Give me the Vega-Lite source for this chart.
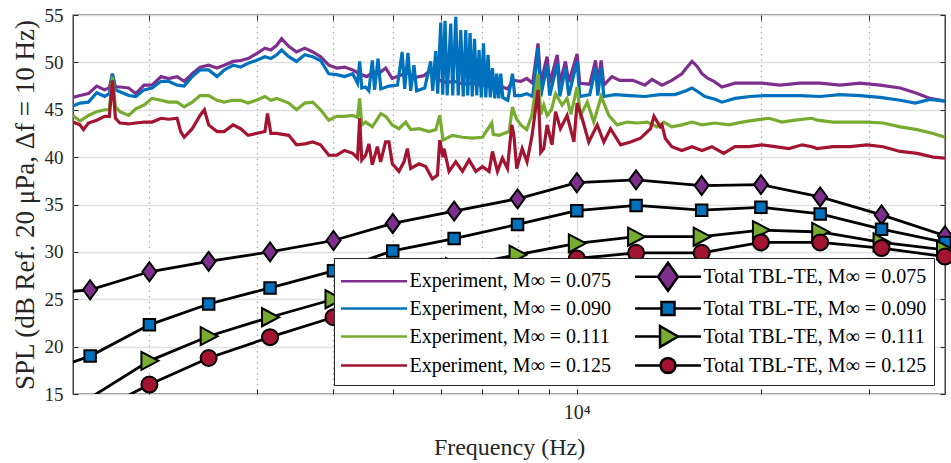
{
"$schema": "https://vega.github.io/schema/vega-lite/v6.json",
"width": 872, "height": 379,
"autosize": {"type": "none"},
"padding": {"left": 73, "top": 15, "right": 6, "bottom": 69},
"background": "white",
"config": {
  "font": "Liberation Serif",
  "view": {"stroke": "#262626", "strokeWidth": 1.3},
  "axis": {"labelFont": "Liberation Serif", "titleFont": "Liberation Serif", "labelColor": "#262626", "titleColor": "#262626", "titleFontWeight": "normal"}
},
"datasets": {
"exp": [
{"f":1500,"spl":46.3,"s":"E075"},{"f":1540,"spl":46.5,"s":"E075"},{"f":1590,"spl":46.7,"s":"E075"},{"f":1640,"spl":47.5,"s":"E075"},{"f":1690,"spl":47.1,"s":"E075"},{"f":1720,"spl":47.3,"s":"E075"},{"f":1740,"spl":48.8,"s":"E075"},{"f":1760,"spl":47.4,"s":"E075"},{"f":1790,"spl":47.4,"s":"E075"},{"f":1850,"spl":47.3,"s":"E075"},{"f":1900,"spl":46.7,"s":"E075"},{"f":1960,"spl":47.6,"s":"E075"},{"f":2020,"spl":47.6,"s":"E075"},{"f":2090,"spl":48.5,"s":"E075"},{"f":2150,"spl":48.3,"s":"E075"},{"f":2220,"spl":48.5,"s":"E075"},{"f":2280,"spl":48.0,"s":"E075"},{"f":2350,"spl":48.8,"s":"E075"},{"f":2420,"spl":49.5,"s":"E075"},{"f":2500,"spl":49.7,"s":"E075"},{"f":2580,"spl":49.4,"s":"E075"},{"f":2650,"spl":49.7,"s":"E075"},{"f":2740,"spl":50.1,"s":"E075"},{"f":2820,"spl":50.2,"s":"E075"},{"f":2900,"spl":50.4,"s":"E075"},{"f":2990,"spl":50.9,"s":"E075"},{"f":3090,"spl":51.5,"s":"E075"},{"f":3160,"spl":51.3,"s":"E075"},{"f":3230,"spl":51.8,"s":"E075"},{"f":3290,"spl":52.5,"s":"E075"},{"f":3380,"spl":51.7,"s":"E075"},{"f":3480,"spl":51.1,"s":"E075"},{"f":3590,"spl":51.5,"s":"E075"},{"f":3700,"spl":51.1,"s":"E075"},{"f":3810,"spl":50.6,"s":"E075"},{"f":3930,"spl":49.7,"s":"E075"},{"f":4050,"spl":49.4,"s":"E075"},{"f":4170,"spl":49.5,"s":"E075"},{"f":4300,"spl":49.2,"s":"E075"},{"f":4410,"spl":48.8,"s":"E075"},{"f":4530,"spl":48.5,"s":"E075"},{"f":4630,"spl":48.9,"s":"E075"},{"f":4780,"spl":49.0,"s":"E075"},{"f":4870,"spl":49.4,"s":"E075"},{"f":4990,"spl":48.3,"s":"E075"},{"f":5120,"spl":48.6,"s":"E075"},{"f":5280,"spl":48.9,"s":"E075"},{"f":5430,"spl":48.4,"s":"E075"},{"f":5620,"spl":48.6,"s":"E075"},{"f":5770,"spl":49.2,"s":"E075"},{"f":5920,"spl":48.2,"s":"E075"},{"f":6100,"spl":47.9,"s":"E075"},{"f":6300,"spl":48.0,"s":"E075"},{"f":6520,"spl":47.7,"s":"E075"},{"f":6750,"spl":47.8,"s":"E075"},{"f":7010,"spl":47.6,"s":"E075"},{"f":7260,"spl":47.4,"s":"E075"},{"f":7500,"spl":47.5,"s":"E075"},{"f":7700,"spl":47.2,"s":"E075"},{"f":7890,"spl":48.1,"s":"E075"},{"f":8100,"spl":48.0,"s":"E075"},{"f":8280,"spl":48.3,"s":"E075"},{"f":8470,"spl":47.8,"s":"E075"},{"f":8640,"spl":52.0,"s":"E075"},{"f":8730,"spl":47.8,"s":"E075"},{"f":8940,"spl":50.6,"s":"E075"},{"f":9030,"spl":47.8,"s":"E075"},{"f":9290,"spl":50.8,"s":"E075"},{"f":9380,"spl":47.8,"s":"E075"},{"f":9580,"spl":50.1,"s":"E075"},{"f":9700,"spl":47.9,"s":"E075"},{"f":10010,"spl":50.9,"s":"E075"},{"f":10110,"spl":47.8,"s":"E075"},{"f":10500,"spl":47.7,"s":"E075"},{"f":10730,"spl":50.2,"s":"E075"},{"f":10820,"spl":47.8,"s":"E075"},{"f":10960,"spl":50.2,"s":"E075"},{"f":11070,"spl":47.6,"s":"E075"},{"f":11410,"spl":48.5,"s":"E075"},{"f":11760,"spl":48.1,"s":"E075"},{"f":12350,"spl":48.1,"s":"E075"},{"f":12920,"spl":47.6,"s":"E075"},{"f":13270,"spl":48.2,"s":"E075"},{"f":13780,"spl":47.6,"s":"E075"},{"f":14300,"spl":48.1,"s":"E075"},{"f":14850,"spl":48.8,"s":"E075"},{"f":15190,"spl":49.6,"s":"E075"},{"f":15430,"spl":50.1,"s":"E075"},{"f":15720,"spl":49.6,"s":"E075"},{"f":16020,"spl":48.8,"s":"E075"},{"f":16380,"spl":48.3,"s":"E075"},{"f":16760,"spl":48.0,"s":"E075"},{"f":17270,"spl":47.4,"s":"E075"},{"f":18140,"spl":47.8,"s":"E075"},{"f":19190,"spl":47.8,"s":"E075"},{"f":20080,"spl":47.8,"s":"E075"},{"f":21490,"spl":47.6,"s":"E075"},{"f":23170,"spl":47.8,"s":"E075"},{"f":24990,"spl":47.8,"s":"E075"},{"f":26940,"spl":47.6,"s":"E075"},{"f":29050,"spl":47.8,"s":"E075"},{"f":31320,"spl":47.6,"s":"E075"},{"f":33790,"spl":47.3,"s":"E075"},{"f":35760,"spl":46.8,"s":"E075"},{"f":37830,"spl":46.2,"s":"E075"},{"f":40000,"spl":45.9,"s":"E075"},

{"f":1500,"spl":45.4,"s":"E090"},{"f":1540,"spl":45.7,"s":"E090"},{"f":1590,"spl":45.8,"s":"E090"},{"f":1640,"spl":46.8,"s":"E090"},{"f":1690,"spl":46.4,"s":"E090"},{"f":1720,"spl":46.7,"s":"E090"},{"f":1740,"spl":48.8,"s":"E090"},{"f":1760,"spl":47.1,"s":"E090"},{"f":1790,"spl":46.9,"s":"E090"},{"f":1850,"spl":46.5,"s":"E090"},{"f":1900,"spl":46.4,"s":"E090"},{"f":1960,"spl":47.1,"s":"E090"},{"f":2020,"spl":47.3,"s":"E090"},{"f":2090,"spl":48.0,"s":"E090"},{"f":2150,"spl":48.0,"s":"E090"},{"f":2220,"spl":47.6,"s":"E090"},{"f":2280,"spl":47.5,"s":"E090"},{"f":2350,"spl":48.5,"s":"E090"},{"f":2420,"spl":49.2,"s":"E090"},{"f":2500,"spl":49.2,"s":"E090"},{"f":2580,"spl":48.5,"s":"E090"},{"f":2650,"spl":49.2,"s":"E090"},{"f":2740,"spl":49.7,"s":"E090"},{"f":2820,"spl":49.5,"s":"E090"},{"f":2900,"spl":49.9,"s":"E090"},{"f":2990,"spl":50.2,"s":"E090"},{"f":3090,"spl":50.6,"s":"E090"},{"f":3160,"spl":50.4,"s":"E090"},{"f":3230,"spl":50.8,"s":"E090"},{"f":3290,"spl":51.3,"s":"E090"},{"f":3380,"spl":50.6,"s":"E090"},{"f":3480,"spl":50.1,"s":"E090"},{"f":3590,"spl":50.8,"s":"E090"},{"f":3700,"spl":50.6,"s":"E090"},{"f":3810,"spl":50.2,"s":"E090"},{"f":3930,"spl":48.8,"s":"E090"},{"f":4050,"spl":48.7,"s":"E090"},{"f":4170,"spl":48.5,"s":"E090"},{"f":4300,"spl":48.8,"s":"E090"},{"f":4380,"spl":47.8,"s":"E090"},{"f":4414,"spl":50.1,"s":"E090"},{"f":4450,"spl":47.3,"s":"E090"},{"f":4514,"spl":47.4,"s":"E090"},{"f":4570,"spl":47.0,"s":"E090"},{"f":4630,"spl":50.2,"s":"E090"},{"f":4670,"spl":47.1,"s":"E090"},{"f":4730,"spl":50.4,"s":"E090"},{"f":4780,"spl":47.2,"s":"E090"},{"f":4930,"spl":47.5,"s":"E090"},{"f":5090,"spl":47.6,"s":"E090"},{"f":5180,"spl":51.1,"s":"E090"},{"f":5230,"spl":47.2,"s":"E090"},{"f":5295,"spl":51.0,"s":"E090"},{"f":5350,"spl":47.0,"s":"E090"},{"f":5416,"spl":49.7,"s":"E090"},{"f":5470,"spl":47.0,"s":"E090"},{"f":5640,"spl":47.3,"s":"E090"},{"f":5768,"spl":50.1,"s":"E090"},{"f":5811,"spl":47.0,"s":"E090"},{"f":5878,"spl":51.2,"s":"E090"},{"f":5922,"spl":46.7,"s":"E090"},{"f":5990,"spl":54.2,"s":"E090"},{"f":6035,"spl":46.6,"s":"E090"},{"f":6088,"spl":54.4,"s":"E090"},{"f":6138,"spl":46.5,"s":"E090"},{"f":6220,"spl":54.1,"s":"E090"},{"f":6267,"spl":46.5,"s":"E090"},{"f":6339,"spl":54.8,"s":"E090"},{"f":6398,"spl":46.5,"s":"E090"},{"f":6459,"spl":53.4,"s":"E090"},{"f":6519,"spl":46.4,"s":"E090"},{"f":6582,"spl":53.4,"s":"E090"},{"f":6631,"spl":46.5,"s":"E090"},{"f":6690,"spl":53.1,"s":"E090"},{"f":6745,"spl":46.4,"s":"E090"},{"f":6803,"spl":52.5,"s":"E090"},{"f":6860,"spl":46.5,"s":"E090"},{"f":6920,"spl":51.3,"s":"E090"},{"f":6978,"spl":46.3,"s":"E090"},{"f":7036,"spl":52.0,"s":"E090"},{"f":7098,"spl":46.3,"s":"E090"},{"f":7158,"spl":50.8,"s":"E090"},{"f":7219,"spl":46.3,"s":"E090"},{"f":7278,"spl":49.4,"s":"E090"},{"f":7343,"spl":46.2,"s":"E090"},{"f":7396,"spl":48.8,"s":"E090"},{"f":7454,"spl":46.2,"s":"E090"},{"f":7509,"spl":48.8,"s":"E090"},{"f":7566,"spl":46.3,"s":"E090"},{"f":7710,"spl":46.0,"s":"E090"},{"f":7848,"spl":48.8,"s":"E090"},{"f":7915,"spl":46.5,"s":"E090"},{"f":8100,"spl":46.5,"s":"E090"},{"f":8280,"spl":46.7,"s":"E090"},{"f":8470,"spl":46.4,"s":"E090"},{"f":8640,"spl":51.5,"s":"E090"},{"f":8730,"spl":46.4,"s":"E090"},{"f":8940,"spl":49.7,"s":"E090"},{"f":9030,"spl":46.5,"s":"E090"},{"f":9290,"spl":49.9,"s":"E090"},{"f":9380,"spl":46.4,"s":"E090"},{"f":9580,"spl":49.4,"s":"E090"},{"f":9700,"spl":46.5,"s":"E090"},{"f":10010,"spl":50.1,"s":"E090"},{"f":10110,"spl":46.4,"s":"E090"},{"f":10500,"spl":46.6,"s":"E090"},{"f":10730,"spl":49.4,"s":"E090"},{"f":10820,"spl":46.5,"s":"E090"},{"f":10960,"spl":49.4,"s":"E090"},{"f":11070,"spl":46.4,"s":"E090"},{"f":11540,"spl":46.6,"s":"E090"},{"f":12210,"spl":46.5,"s":"E090"},{"f":12920,"spl":46.4,"s":"E090"},{"f":13670,"spl":46.6,"s":"E090"},{"f":14470,"spl":46.6,"s":"E090"},{"f":15080,"spl":47.0,"s":"E090"},{"f":15430,"spl":47.3,"s":"E090"},{"f":15780,"spl":46.9,"s":"E090"},{"f":16200,"spl":46.4,"s":"E090"},{"f":16820,"spl":46.1,"s":"E090"},{"f":17270,"spl":45.8,"s":"E090"},{"f":18140,"spl":46.2,"s":"E090"},{"f":19190,"spl":46.4,"s":"E090"},{"f":20310,"spl":46.5,"s":"E090"},{"f":21490,"spl":46.5,"s":"E090"},{"f":23170,"spl":46.5,"s":"E090"},{"f":24990,"spl":46.4,"s":"E090"},{"f":26940,"spl":46.6,"s":"E090"},{"f":29050,"spl":46.5,"s":"E090"},{"f":31320,"spl":46.3,"s":"E090"},{"f":33790,"spl":46.0,"s":"E090"},{"f":35760,"spl":45.7,"s":"E090"},{"f":37830,"spl":46.1,"s":"E090"},{"f":40000,"spl":45.9,"s":"E090"},

{"f":1500,"spl":44.4,"s":"E111"},{"f":1540,"spl":43.8,"s":"E111"},{"f":1590,"spl":44.4,"s":"E111"},{"f":1640,"spl":44.8,"s":"E111"},{"f":1690,"spl":45.0,"s":"E111"},{"f":1720,"spl":45.0,"s":"E111"},{"f":1740,"spl":48.5,"s":"E111"},{"f":1760,"spl":45.3,"s":"E111"},{"f":1790,"spl":44.8,"s":"E111"},{"f":1850,"spl":44.4,"s":"E111"},{"f":1900,"spl":45.1,"s":"E111"},{"f":1960,"spl":45.5,"s":"E111"},{"f":2020,"spl":46.2,"s":"E111"},{"f":2090,"spl":46.0,"s":"E111"},{"f":2150,"spl":45.8,"s":"E111"},{"f":2220,"spl":45.8,"s":"E111"},{"f":2280,"spl":45.3,"s":"E111"},{"f":2350,"spl":45.8,"s":"E111"},{"f":2420,"spl":46.5,"s":"E111"},{"f":2500,"spl":46.5,"s":"E111"},{"f":2580,"spl":46.0,"s":"E111"},{"f":2650,"spl":45.8,"s":"E111"},{"f":2740,"spl":46.0,"s":"E111"},{"f":2820,"spl":46.0,"s":"E111"},{"f":2900,"spl":45.7,"s":"E111"},{"f":2990,"spl":46.0,"s":"E111"},{"f":3090,"spl":46.4,"s":"E111"},{"f":3160,"spl":46.0,"s":"E111"},{"f":3230,"spl":46.2,"s":"E111"},{"f":3380,"spl":45.7,"s":"E111"},{"f":3480,"spl":45.0,"s":"E111"},{"f":3590,"spl":45.7,"s":"E111"},{"f":3700,"spl":45.8,"s":"E111"},{"f":3810,"spl":45.0,"s":"E111"},{"f":3930,"spl":43.9,"s":"E111"},{"f":4050,"spl":44.3,"s":"E111"},{"f":4170,"spl":44.3,"s":"E111"},{"f":4300,"spl":44.4,"s":"E111"},{"f":4380,"spl":44.2,"s":"E111"},{"f":4414,"spl":46.2,"s":"E111"},{"f":4450,"spl":43.4,"s":"E111"},{"f":4514,"spl":43.7,"s":"E111"},{"f":4630,"spl":43.2,"s":"E111"},{"f":4780,"spl":44.6,"s":"E111"},{"f":4870,"spl":44.3,"s":"E111"},{"f":4990,"spl":43.4,"s":"E111"},{"f":5120,"spl":43.0,"s":"E111"},{"f":5250,"spl":43.7,"s":"E111"},{"f":5350,"spl":42.9,"s":"E111"},{"f":5520,"spl":43.0,"s":"E111"},{"f":5730,"spl":42.7,"s":"E111"},{"f":5880,"spl":42.9,"s":"E111"},{"f":5968,"spl":44.4,"s":"E111"},{"f":6042,"spl":41.8,"s":"E111"},{"f":6260,"spl":42.3,"s":"E111"},{"f":6500,"spl":42.1,"s":"E111"},{"f":6750,"spl":42.0,"s":"E111"},{"f":7010,"spl":42.1,"s":"E111"},{"f":7259,"spl":43.6,"s":"E111"},{"f":7300,"spl":42.4,"s":"E111"},{"f":7460,"spl":42.3,"s":"E111"},{"f":7750,"spl":42.7,"s":"E111"},{"f":7848,"spl":45.3,"s":"E111"},{"f":7890,"spl":44.8,"s":"E111"},{"f":7975,"spl":44.0,"s":"E111"},{"f":8100,"spl":43.4,"s":"E111"},{"f":8280,"spl":42.9,"s":"E111"},{"f":8440,"spl":44.4,"s":"E111"},{"f":8640,"spl":48.8,"s":"E111"},{"f":8730,"spl":44.5,"s":"E111"},{"f":8830,"spl":45.5,"s":"E111"},{"f":8940,"spl":44.4,"s":"E111"},{"f":9090,"spl":45.0,"s":"E111"},{"f":9230,"spl":46.7,"s":"E111"},{"f":9460,"spl":45.5,"s":"E111"},{"f":9640,"spl":46.2,"s":"E111"},{"f":9780,"spl":44.5,"s":"E111"},{"f":10010,"spl":47.4,"s":"E111"},{"f":10140,"spl":44.4,"s":"E111"},{"f":10400,"spl":45.8,"s":"E111"},{"f":10660,"spl":43.7,"s":"E111"},{"f":10960,"spl":46.4,"s":"E111"},{"f":11280,"spl":44.4,"s":"E111"},{"f":11640,"spl":43.4,"s":"E111"},{"f":12090,"spl":43.7,"s":"E111"},{"f":12550,"spl":43.6,"s":"E111"},{"f":13030,"spl":43.7,"s":"E111"},{"f":13530,"spl":43.2,"s":"E111"},{"f":13880,"spl":43.7,"s":"E111"},{"f":14300,"spl":43.2,"s":"E111"},{"f":14850,"spl":43.4,"s":"E111"},{"f":15430,"spl":43.7,"s":"E111"},{"f":16020,"spl":43.4,"s":"E111"},{"f":16820,"spl":43.6,"s":"E111"},{"f":17730,"spl":43.4,"s":"E111"},{"f":18620,"spl":43.7,"s":"E111"},{"f":19560,"spl":43.9,"s":"E111"},{"f":20620,"spl":44.1,"s":"E111"},{"f":21650,"spl":43.7,"s":"E111"},{"f":22740,"spl":43.9,"s":"E111"},{"f":24240,"spl":44.1,"s":"E111"},{"f":24710,"spl":43.9,"s":"E111"},{"f":26240,"spl":43.7,"s":"E111"},{"f":27980,"spl":43.7,"s":"E111"},{"f":29830,"spl":43.7,"s":"E111"},{"f":31680,"spl":43.6,"s":"E111"},{"f":33790,"spl":43.2,"s":"E111"},{"f":36030,"spl":42.9,"s":"E111"},{"f":38250,"spl":42.5,"s":"E111"},{"f":40000,"spl":42.1,"s":"E111"},

{"f":1500,"spl":43.7,"s":"E125"},{"f":1540,"spl":43.4,"s":"E125"},{"f":1560,"spl":42.9,"s":"E125"},{"f":1590,"spl":43.6,"s":"E125"},{"f":1640,"spl":43.9,"s":"E125"},{"f":1690,"spl":44.3,"s":"E125"},{"f":1720,"spl":44.3,"s":"E125"},{"f":1740,"spl":48.1,"s":"E125"},{"f":1760,"spl":44.1,"s":"E125"},{"f":1790,"spl":43.6,"s":"E125"},{"f":1850,"spl":43.5,"s":"E125"},{"f":1900,"spl":43.6,"s":"E125"},{"f":1960,"spl":43.7,"s":"E125"},{"f":2020,"spl":43.7,"s":"E125"},{"f":2090,"spl":44.1,"s":"E125"},{"f":2150,"spl":44.0,"s":"E125"},{"f":2220,"spl":44.1,"s":"E125"},{"f":2250,"spl":42.7,"s":"E125"},{"f":2280,"spl":42.1,"s":"E125"},{"f":2350,"spl":43.0,"s":"E125"},{"f":2420,"spl":44.4,"s":"E125"},{"f":2460,"spl":45.0,"s":"E125"},{"f":2500,"spl":43.4,"s":"E125"},{"f":2580,"spl":42.7,"s":"E125"},{"f":2650,"spl":42.7,"s":"E125"},{"f":2740,"spl":43.4,"s":"E125"},{"f":2820,"spl":43.0,"s":"E125"},{"f":2900,"spl":42.3,"s":"E125"},{"f":2990,"spl":42.5,"s":"E125"},{"f":3090,"spl":42.7,"s":"E125"},{"f":3120,"spl":44.6,"s":"E125"},{"f":3160,"spl":42.5,"s":"E125"},{"f":3230,"spl":42.5,"s":"E125"},{"f":3380,"spl":42.3,"s":"E125"},{"f":3480,"spl":41.3,"s":"E125"},{"f":3590,"spl":41.4,"s":"E125"},{"f":3700,"spl":41.6,"s":"E125"},{"f":3810,"spl":41.3,"s":"E125"},{"f":3930,"spl":40.2,"s":"E125"},{"f":4050,"spl":40.2,"s":"E125"},{"f":4170,"spl":40.7,"s":"E125"},{"f":4300,"spl":40.4,"s":"E125"},{"f":4380,"spl":39.9,"s":"E125"},{"f":4414,"spl":44.1,"s":"E125"},{"f":4450,"spl":39.7,"s":"E125"},{"f":4514,"spl":40.2,"s":"E125"},{"f":4571,"spl":41.4,"s":"E125"},{"f":4629,"spl":39.2,"s":"E125"},{"f":4718,"spl":41.1,"s":"E125"},{"f":4777,"spl":39.5,"s":"E125"},{"f":4867,"spl":41.6,"s":"E125"},{"f":4928,"spl":41.6,"s":"E125"},{"f":4992,"spl":39.3,"s":"E125"},{"f":5118,"spl":38.5,"s":"E125"},{"f":5216,"spl":39.5,"s":"E125"},{"f":5283,"spl":40.9,"s":"E125"},{"f":5349,"spl":38.8,"s":"E125"},{"f":5519,"spl":39.3,"s":"E125"},{"f":5661,"spl":39.0,"s":"E125"},{"f":5805,"spl":37.7,"s":"E125"},{"f":5916,"spl":38.1,"s":"E125"},{"f":5968,"spl":41.8,"s":"E125"},{"f":6042,"spl":40.0,"s":"E125"},{"f":6065,"spl":40.9,"s":"E125"},{"f":6180,"spl":38.5,"s":"E125"},{"f":6339,"spl":39.5,"s":"E125"},{"f":6501,"spl":38.5,"s":"E125"},{"f":6664,"spl":39.7,"s":"E125"},{"f":6836,"spl":38.5,"s":"E125"},{"f":7010,"spl":39.0,"s":"E125"},{"f":7186,"spl":38.5,"s":"E125"},{"f":7278,"spl":40.6,"s":"E125"},{"f":7416,"spl":38.5,"s":"E125"},{"f":7557,"spl":39.9,"s":"E125"},{"f":7701,"spl":38.8,"s":"E125"},{"f":7827,"spl":43.4,"s":"E125"},{"f":7890,"spl":42.3,"s":"E125"},{"f":7975,"spl":38.8,"s":"E125"},{"f":8140,"spl":40.9,"s":"E125"},{"f":8290,"spl":39.5,"s":"E125"},{"f":8450,"spl":42.3,"s":"E125"},{"f":8640,"spl":47.1,"s":"E125"},{"f":8730,"spl":40.5,"s":"E125"},{"f":8830,"spl":40.9,"s":"E125"},{"f":8940,"spl":43.4,"s":"E125"},{"f":9110,"spl":41.3,"s":"E125"},{"f":9230,"spl":44.8,"s":"E125"},{"f":9400,"spl":43.0,"s":"E125"},{"f":9640,"spl":44.4,"s":"E125"},{"f":9890,"spl":41.6,"s":"E125"},{"f":10010,"spl":45.7,"s":"E125"},{"f":10200,"spl":44.1,"s":"E125"},{"f":10460,"spl":41.6,"s":"E125"},{"f":10800,"spl":43.4,"s":"E125"},{"f":11070,"spl":41.6,"s":"E125"},{"f":11350,"spl":43.0,"s":"E125"},{"f":11790,"spl":41.3,"s":"E125"},{"f":12240,"spl":41.6,"s":"E125"},{"f":12710,"spl":42.0,"s":"E125"},{"f":13200,"spl":43.0,"s":"E125"},{"f":13370,"spl":44.3,"s":"E125"},{"f":13690,"spl":43.2,"s":"E125"},{"f":13780,"spl":43.4,"s":"E125"},{"f":13950,"spl":42.0,"s":"E125"},{"f":14300,"spl":41.1,"s":"E125"},{"f":14850,"spl":40.7,"s":"E125"},{"f":15430,"spl":41.1,"s":"E125"},{"f":16020,"spl":40.7,"s":"E125"},{"f":16630,"spl":41.1,"s":"E125"},{"f":17380,"spl":40.4,"s":"E125"},{"f":18140,"spl":41.1,"s":"E125"},{"f":19120,"spl":41.1,"s":"E125"},{"f":20080,"spl":41.3,"s":"E125"},{"f":21090,"spl":41.1,"s":"E125"},{"f":22230,"spl":40.9,"s":"E125"},{"f":23350,"spl":41.3,"s":"E125"},{"f":24240,"spl":41.1,"s":"E125"},{"f":24710,"spl":40.9,"s":"E125"},{"f":26240,"spl":41.1,"s":"E125"},{"f":27980,"spl":41.1,"s":"E125"},{"f":29830,"spl":41.3,"s":"E125"},{"f":31680,"spl":41.1,"s":"E125"},{"f":33790,"spl":40.6,"s":"E125"},{"f":36030,"spl":40.4,"s":"E125"},{"f":38250,"spl":40.0,"s":"E125"},{"f":40000,"spl":39.9,"s":"E125"}
],
"model": [
{"f":1250,"spl":25.4,"s":"T075"},{"f":1600,"spl":26.0,"s":"T075"},{"f":2000,"spl":27.9,"s":"T075"},{"f":2500,"spl":29.0,"s":"T075"},{"f":3150,"spl":30.0,"s":"T075"},{"f":4000,"spl":31.2,"s":"T075"},{"f":5000,"spl":33.0,"s":"T075"},{"f":6300,"spl":34.3,"s":"T075"},{"f":8000,"spl":35.6,"s":"T075"},{"f":10000,"spl":37.3,"s":"T075"},{"f":12500,"spl":37.6,"s":"T075"},{"f":16000,"spl":37.0,"s":"T075"},{"f":20000,"spl":37.1,"s":"T075"},{"f":25000,"spl":35.8,"s":"T075"},{"f":31500,"spl":33.9,"s":"T075"},{"f":40000,"spl":31.7,"s":"T075"},
{"f":1250,"spl":16.6,"s":"T090"},{"f":1600,"spl":19.0,"s":"T090"},{"f":2000,"spl":22.3,"s":"T090"},{"f":2500,"spl":24.5,"s":"T090"},{"f":3150,"spl":26.2,"s":"T090"},{"f":4000,"spl":28.0,"s":"T090"},{"f":5000,"spl":30.1,"s":"T090"},{"f":6300,"spl":31.4,"s":"T090"},{"f":8000,"spl":32.9,"s":"T090"},{"f":10000,"spl":34.35,"s":"T090"},{"f":12500,"spl":34.9,"s":"T090"},{"f":16000,"spl":34.4,"s":"T090"},{"f":20000,"spl":34.7,"s":"T090"},{"f":25000,"spl":34.0,"s":"T090"},{"f":31500,"spl":32.4,"s":"T090"},{"f":40000,"spl":31.0,"s":"T090"},
{"f":1250,"spl":11.0,"s":"T111"},{"f":1600,"spl":14.6,"s":"T111"},{"f":2000,"spl":18.5,"s":"T111"},{"f":2500,"spl":21.1,"s":"T111"},{"f":3150,"spl":23.1,"s":"T111"},{"f":4000,"spl":25.0,"s":"T111"},{"f":5000,"spl":26.9,"s":"T111"},{"f":6300,"spl":28.4,"s":"T111"},{"f":8000,"spl":29.7,"s":"T111"},{"f":10000,"spl":30.9,"s":"T111"},{"f":12500,"spl":31.6,"s":"T111"},{"f":16000,"spl":31.6,"s":"T111"},{"f":20000,"spl":32.3,"s":"T111"},{"f":25000,"spl":32.1,"s":"T111"},{"f":31500,"spl":31.0,"s":"T111"},{"f":40000,"spl":30.2,"s":"T111"},
{"f":1250,"spl":9.5,"s":"T125"},{"f":1600,"spl":12.8,"s":"T125"},{"f":2000,"spl":16.0,"s":"T125"},{"f":2500,"spl":18.8,"s":"T125"},{"f":3150,"spl":21.0,"s":"T125"},{"f":4000,"spl":23.1,"s":"T125"},{"f":5000,"spl":25.0,"s":"T125"},{"f":6300,"spl":26.6,"s":"T125"},{"f":8000,"spl":28.1,"s":"T125"},{"f":10000,"spl":29.3,"s":"T125"},{"f":12500,"spl":29.9,"s":"T125"},{"f":16000,"spl":29.9,"s":"T125"},{"f":20000,"spl":31.0,"s":"T125"},{"f":25000,"spl":31.0,"s":"T125"},{"f":31500,"spl":30.4,"s":"T125"},{"f":40000,"spl":29.5,"s":"T125"}
]
},
"layer": [
{
  "data": {"name": "exp"},
  "mark": {"type": "line", "strokeWidth": 3.2, "clip": true},
  "encoding": {
    "x": {"field": "f", "type": "quantitative", "scale": {"type": "log", "domain": [1500, 40000], "nice": false},
      "axis": {"orient": "bottom", "values": [2000,3000,4000,5000,6000,7000,8000,9000,10000,20000,30000],
        "labelExpr": "datum.value == 10000 ? '10⁴' : ''", "labelFontSize": 20, "labelPadding": 13, "labelOverlap": false, "labelFlush": false,
        "tickSize": -5, "tickColor": "#262626", "tickWidth": 1, "domain": false,
        "grid": true, "gridWidth": 1.3,
        "gridColor": {"condition": {"test": "datum.value === 10000", "value": "#dcdcdc"}, "value": "#ababab"},
        "gridDash": {"condition": {"test": "datum.value === 10000", "value": []}, "value": [1.5, 4]},
        "title": "Frequency (Hz)", "titleFontSize": 24, "titlePadding": 13}},
    "y": {"field": "spl", "type": "quantitative", "scale": {"domain": [15, 55], "nice": false, "zero": false},
      "axis": {"orient": "left", "values": [15,20,25,30,35,40,45,50,55], "labelFontSize": 19, "labelPadding": 15,
        "tickSize": -5, "tickColor": "#262626", "tickWidth": 1, "domain": false,
        "grid": true, "gridColor": "#e0e0e0", "gridWidth": 1.6,
        "title": "SPL (dB Ref. 20 μPa, Δf = 10 Hz)", "titleFontSize": 27, "titlePadding": 5}},
    "color": {"field": "s", "type": "nominal",
      "scale": {"domain": ["E075","E090","E111","E125","T075","T090","T111","T125"],
                "range": ["#7E2F8E","#0072BD","#77AC30","#A2142F","#000000","#000000","#000000","#000000"]},
      "legend": {"title": null, "orient": "none", "legendX": 261, "legendY": 243,
        "columns": 2, "columnPadding": 18, "rowPadding": 1,
        "symbolSize": 400, "symbolStrokeWidth": 2.5, "symbolOffset": 21.5, "labelOffset": 24,
        "labelFont": "Liberation Serif", "labelFontSize": 20, "labelColor": "#000000", "labelLimit": 500,
        "labelExpr": "(slice(datum.value,0,1)=='E' ? 'Experiment' : 'Total TBL-TE') + ', M∞ = 0.' + slice(datum.value,1)",
        "padding": 7, "strokeColor": "#262626", "fillColor": "white",
        "encode": {"symbols": {"update": {
          "shape": {"signal": "slice(datum.value,0,1)=='E' ? 'M-3.3,0H3.3' : datum.value=='T075' ? 'M-3.3,0H-1M1,0H3.3M0,-1.4L1,0L0,1.4L-1,0Z' : datum.value=='T090' ? 'M-3.3,0H-0.65M0.65,0H3.3M-0.65,-0.65H0.65V0.65H-0.65Z' : datum.value=='T111' ? 'M-3.3,0H-0.8M1,0H3.3M-0.8,-1.05L1,0L-0.8,1.05Z' : 'M-3.3,0H-0.75M0.75,0H3.3M0.75,0A0.75,0.75,0,1,1,-0.75,0A0.75,0.75,0,1,1,0.75,0Z'"},
          "fill": {"signal": "slice(datum.value,0,1)=='E' ? 'transparent' : datum.value=='T075' ? '#7E2F8E' : datum.value=='T090' ? '#0072BD' : datum.value=='T111' ? '#77AC30' : '#A2142F'"},
          "stroke": {"signal": "datum.value=='E075' ? '#7E2F8E' : datum.value=='E090' ? '#0072BD' : datum.value=='E111' ? '#77AC30' : datum.value=='E125' ? '#A2142F' : '#000000'"},
          "opacity": {"value": 1}
        }}}
      }}
  }
},
{
  "data": {"name": "model"},
  "mark": {"type": "line", "strokeWidth": 2.8, "clip": true},
  "encoding": {
    "x": {"field": "f", "type": "quantitative", "axis": {"orient": "top", "values": [2000,3000,4000,5000,6000,7000,8000,9000,10000,20000,30000], "labels": false, "tickSize": -5, "tickColor": "#262626", "domain": false, "grid": false, "title": null}},
    "y": {"field": "spl", "type": "quantitative", "axis": {"orient": "right", "values": [15,20,25,30,35,40,45,50,55], "labels": false, "tickSize": -5, "tickColor": "#262626", "domain": false, "grid": false, "title": null}},
    "color": {"field": "s", "type": "nominal"}
  }
},
{
  "data": {"name": "model"},
  "transform": [{"filter": "datum.f >= 1500 && datum.spl >= 15"}],
  "mark": {"type": "point", "filled": true, "stroke": "#000000", "strokeWidth": 2, "size": 100, "opacity": 1},
  "encoding": {
    "x": {"field": "f", "type": "quantitative", "axis": null},
    "y": {"field": "spl", "type": "quantitative", "axis": null},
    "fill": {"field": "s", "type": "nominal", "legend": null,
      "scale": {"domain": ["T075","T090","T111","T125"], "range": ["#7E2F8E","#0072BD","#77AC30","#A2142F"]}},
    "shape": {"field": "s", "type": "nominal", "legend": null,
      "scale": {"domain": ["T075","T090","T111","T125"], "range": ["M0,-1.9L1.4,0L0,1.9L-1.4,0Z","M-1.15,-1.15H1.15V1.15H-1.15Z","M-1.6,-1.8L1.8,0L-1.6,1.8Z","M1.6,0A1.6,1.6,0,1,1,-1.6,0A1.6,1.6,0,1,1,1.6,0Z"]}}
  }
}
],
"resolve": {"axis": {"x": "independent", "y": "independent"}}
}
